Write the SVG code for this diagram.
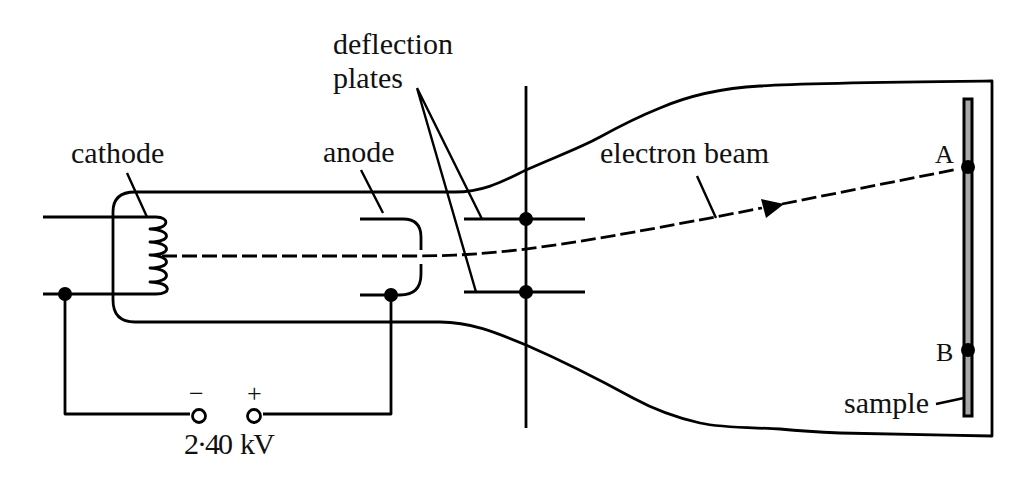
<svg xmlns="http://www.w3.org/2000/svg" width="1024" height="503" viewBox="0 0 1024 503">
<style>
.w{fill:none;stroke:#000;stroke-width:2.8;stroke-linejoin:round}
.t{fill:none;stroke:#000;stroke-width:2.4}
.b{stroke-dasharray:15 5}
.d{fill:#000}
.o{fill:#fff;stroke:#000;stroke-width:2.8}
text{font-family:"Liberation Serif","Times New Roman",serif;font-size:30px;fill:#111}
.s{font-size:26px}
</style>
<rect width="1024" height="503" fill="#fff"/>
<g id="tube"><path class="w" d="M992 81V436C940 435 880 434 840 433C815 432 800 431 780 429C755 427.500 722 428 700 423C678 418 655 410 633 398C600 380 565 362 526 345C495 332 470 322 440 322H135Q113 322 113 300V212Q113 192 135 192H455C485 192 505 180 526 170C555 157 580 148 600 137C620 126 640 116 660 108C690 95 725 88 760 86C800 83 900 82 992 81Z"/></g>
<g id="sample"><rect x="964" y="99" width="8" height="317" fill="#a8a8a8" stroke="#000" stroke-width="3"/></g>
<g id="connectors">
<path class="w" d="M43 217H156C170 217 170 229 150 229C172 230 172 242 150 242C172 243 172 255 150 255C172 256 172 268 150 268C172 269 172 282 150 282C172 283 172 294 156 294H43"/>
<path class="w" d="M360 219H403Q421 219 421 237V250M421 264V274Q421 295 400 295H360"/>
<path class="w" d="M65 294V414H190M391 295V414H263M526 86V428M464 219H585M464 292H585"/>
<path class="w b" d="M162 256H410C500 256 560 247 762 208"/>
<path class="w b" d="M782 204L958 169"/>
<path class="t" d="M127 173L147 217M361 170L383 213M417 88L482 219M417 88L476 292M697 176L716 218M936 404L964 398"/>
<path d="M761 199L784 204L766 218Z" fill="#000"/>
</g>
<g id="dots">
<circle class="d" cx="65" cy="294" r="7"/><circle class="d" cx="391" cy="295" r="7"/>
<circle class="d" cx="526" cy="219" r="7"/><circle class="d" cx="526" cy="292" r="7"/>
<circle class="d" cx="968" cy="167" r="7"/><circle class="d" cx="968" cy="350" r="7"/>
<circle class="o" cx="199" cy="416" r="6.500"/><circle class="o" cx="254" cy="416" r="6.500"/>
</g>
<g id="labels">
<text x="71" y="163">cathode</text><text x="323" y="162">anode</text>
<text x="333" y="54">deflection</text><text x="333" y="88">plates</text>
<text x="600" y="163">electron beam</text>
<text class="s" x="935" y="163">A</text><text class="s" x="936" y="361">B</text>
<text x="844" y="413">sample</text>
<text class="s" x="189" y="402">−</text><text class="s" x="247" y="402">+</text>
<text x="184" y="454" textLength="49">2·40</text><text x="240" y="454" textLength="35">kV</text>
</g>
</svg>
